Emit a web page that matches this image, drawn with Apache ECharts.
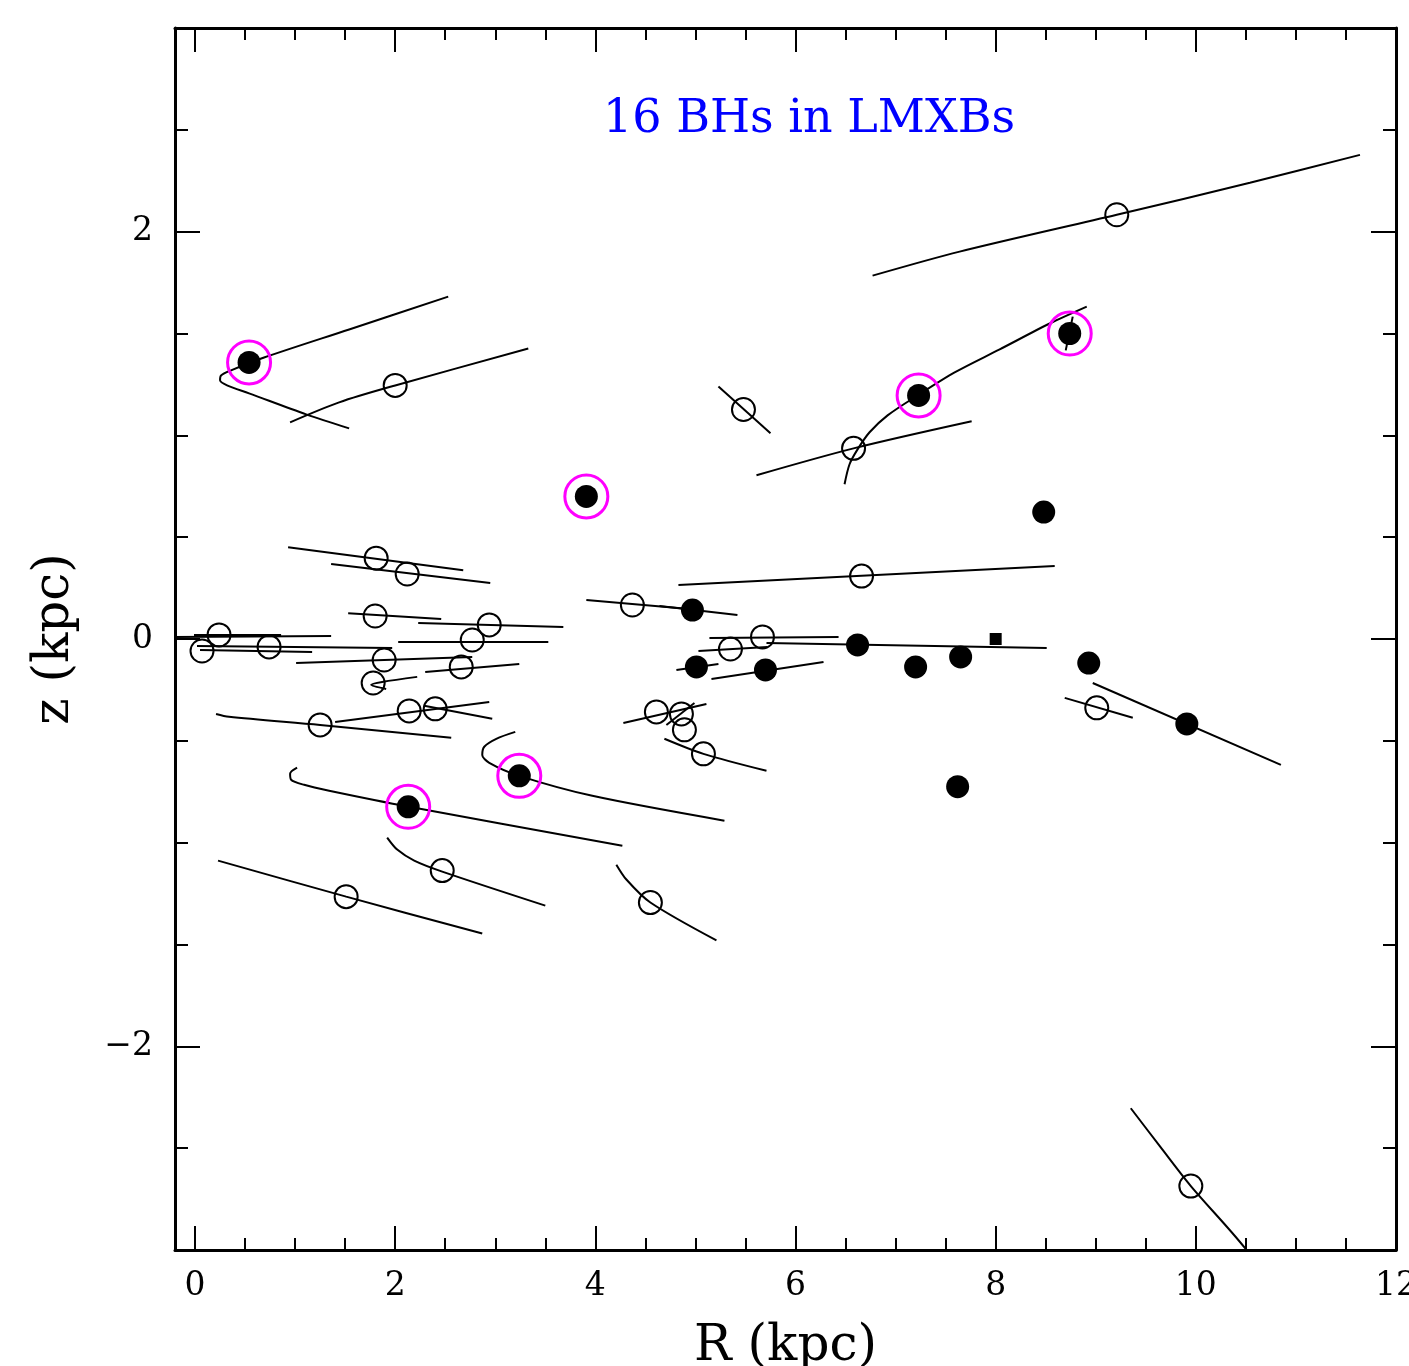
<!DOCTYPE html>
<html>
<head>
<meta charset="utf-8">
<script src="https://cdn.jsdelivr.net/npm/echarts@6/dist/echarts.min.js"></script>
<style>
  html, body { margin: 0; padding: 0; background: #fff; }
  #chart { width: 1409px; height: 1366px; }
</style>
</head>
<body>
<div id="chart"></div>
<script>
// tick positions
const xMajor = [0, 2, 4, 6, 8, 10, 12];
const xMinor = [0.5, 1, 1.5, 2.5, 3, 3.5, 4.5, 5, 5.5, 6.5, 7, 7.5, 8.5, 9, 9.5, 10.5, 11, 11.5];
const yMajor = [-2, 0, 2];
const yMinor = [-2.5, -1.5, -1, -0.5, 0.5, 1, 1.5, 2.5];

// black holes (filled), the ones with a magenta ring, other sources (open), the Sun
const bhPoints = [
  [0.54, 1.358], [3.91, 0.70], [7.23, 1.196], [8.74, 1.50], [3.24, -0.672], [2.13, -0.824],
  [4.97, 0.142], [5.01, -0.137], [5.70, -0.152], [6.62, -0.029], [7.20, -0.137], [7.65, -0.088],
  [8.48, 0.623], [8.93, -0.118], [9.91, -0.417], [7.62, -0.725]
];
const ringed = [
  [0.54, 1.358], [3.91, 0.70], [7.23, 1.196], [8.74, 1.50], [3.24, -0.672], [2.13, -0.824]
];
const openPoints = [
  [2.00, 1.245], [5.48, 1.127], [6.58, 0.936], [9.21, 2.083], [1.81, 0.397], [2.12, 0.319],
  [1.80, 0.113], [2.94, 0.069], [2.77, -0.005], [0.24, 0.020], [0.07, -0.059], [0.74, -0.039],
  [1.89, -0.103], [2.66, -0.137], [1.78, -0.216], [2.14, -0.353], [2.40, -0.343], [1.25, -0.422],
  [4.37, 0.167], [6.66, 0.309], [5.67, 0.010], [5.35, -0.049], [4.61, -0.358], [4.86, -0.368],
  [4.89, -0.446], [5.08, -0.564], [2.47, -1.137], [1.51, -1.265], [4.55, -1.294], [9.01, -0.338],
  [9.95, -2.686]
];
const sun = [[8.0, 0.0]];

// orbit tracks, one point list each
const tracks = [
  [[2.53, 1.681], [1.54, 1.520], [0.69, 1.382], [0.36, 1.319], [0.26, 1.294], [0.25, 1.270],
   [0.32, 1.245], [0.54, 1.206], [1.11, 1.103], [1.54, 1.034]],
  [[0.95, 1.064], [1.44, 1.162], [2.00, 1.245], [3.33, 1.426]],
  [[6.49, 0.760], [6.54, 0.858], [6.62, 0.931], [6.74, 1.015], [6.92, 1.098], [7.22, 1.196],
   [7.59, 1.309], [8.04, 1.422], [8.54, 1.549], [8.91, 1.632]],
  [[8.77, 1.583], [8.70, 1.417]],
  [[5.61, 0.804], [6.58, 0.936], [7.76, 1.069]],
  [[5.23, 1.240], [5.75, 1.010]],
  [[6.77, 1.784], [7.64, 1.902], [9.21, 2.083], [10.54, 2.240], [11.64, 2.377]],
  [[0.93, 0.451], [2.68, 0.338]],
  [[1.36, 0.368], [2.95, 0.275]],
  [[1.53, 0.127], [2.46, 0.098]],
  [[2.23, 0.078], [3.68, 0.059]],
  [[2.03, -0.015], [3.53, -0.015]],
  [[-0.01, 0.020], [0.86, 0.020]],
  [[-0.21, 0.010], [1.36, 0.015]],
  [[0.02, -0.034], [1.97, -0.044]],
  [[0.05, -0.054], [1.17, -0.064]],
  [[1.01, -0.118], [2.77, -0.088]],
  [[2.30, -0.162], [3.24, -0.123]],
  [[2.22, -0.186], [1.87, -0.211], [1.76, -0.225], [1.91, -0.245]],
  [[0.21, -0.368], [0.34, -0.382], [1.25, -0.422], [2.56, -0.485]],
  [[1.40, -0.407], [2.94, -0.309]],
  [[2.29, -0.328], [2.97, -0.392]],
  [[3.91, 0.191], [4.94, 0.147]],
  [[4.64, 0.162], [5.42, 0.118]],
  [[4.83, 0.265], [8.59, 0.358]],
  [[5.14, 0.005], [6.43, 0.010]],
  [[5.03, -0.059], [5.72, -0.039]],
  [[5.71, -0.020], [8.51, -0.044]],
  [[4.81, -0.152], [5.23, -0.123]],
  [[5.16, -0.196], [6.28, -0.113]],
  [[4.28, -0.412], [5.11, -0.319]],
  [[4.71, -0.422], [4.99, -0.314]],
  [[4.69, -0.490], [5.08, -0.564], [5.71, -0.647]],
  [[3.20, -0.456], [3.01, -0.490], [2.89, -0.529], [2.87, -0.569], [2.94, -0.608], [3.24, -0.672],
   [3.97, -0.770], [5.29, -0.892]],
  [[1.02, -0.632], [0.95, -0.662], [0.96, -0.691], [1.09, -0.716], [1.34, -0.745], [2.14, -0.824],
   [4.27, -1.015]],
  [[1.92, -0.975], [2.02, -1.034], [2.19, -1.088], [2.47, -1.142], [3.50, -1.309]],
  [[0.23, -1.088], [1.51, -1.265], [2.87, -1.446]],
  [[4.21, -1.108], [4.31, -1.181], [4.55, -1.294], [5.21, -1.480]],
  [[8.69, -0.289], [9.37, -0.387]],
  [[8.97, -0.216], [10.85, -0.618]],
  [[9.35, -2.304], [9.64, -2.490], [9.95, -2.686], [10.49, -2.990], [10.55, -3.06]]
];

const FONT = 'DejaVu Serif';
const minus = v => (v < 0 ? '\u2212' + (-v) : String(v));

function xAx(pos, vals, len, labels, line) {
  return {
    type: 'value', min: -0.2, max: 12, position: pos,
    axisLine: { show: line, onZero: false, lineStyle: { color: '#000', width: 3 } },
    axisTick: { show: true, inside: true, length: len, customValues: vals, lineStyle: { color: '#000', width: 2 } },
    axisLabel: { show: labels, customValues: vals, margin: 20, color: '#000', fontFamily: FONT, fontSize: 33, formatter: minus },
    splitLine: { show: false }
  };
}
function yAx(pos, vals, len, labels, line) {
  return {
    type: 'value', min: -3, max: 3, position: pos,
    axisLine: { show: line, onZero: false, lineStyle: { color: '#000', width: 3 } },
    axisTick: { show: true, inside: true, length: len, customValues: vals, lineStyle: { color: '#000', width: 2 } },
    axisLabel: { show: labels, customValues: vals, margin: 22, color: '#000', fontFamily: FONT, fontSize: 33, formatter: minus },
    splitLine: { show: false }
  };
}

const xAxes = [
  Object.assign(xAx('bottom', xMajor, 24, true, true), {
    name: 'R (kpc)', nameLocation: 'middle', nameGap: 72,
    nameTextStyle: { color: '#000', fontFamily: FONT, fontSize: 50 }
  }),
  xAx('bottom', xMinor, 12, false, false),
  xAx('top', xMajor, 24, false, true),
  xAx('top', xMinor, 12, false, false)
];
const yAxes = [
  Object.assign(yAx('left', yMajor, 25, true, true), {
    name: 'z (kpc)', nameLocation: 'middle', nameGap: 95,
    nameTextStyle: { color: '#000', fontFamily: FONT, fontSize: 50 }
  }),
  yAx('left', yMinor, 13, false, false),
  yAx('right', yMajor, 25, false, true),
  yAx('right', yMinor, 13, false, false)
];

const series = tracks.map(t => ({
  type: 'line', data: t, showSymbol: false, symbol: 'none', smooth: 0.3,
  lineStyle: { color: '#000', width: 2 }, silent: true, z: 2
}));
series.push({
  type: 'scatter', data: openPoints, symbol: 'circle', symbolSize: 23,
  itemStyle: { color: 'rgba(0,0,0,0)', borderColor: '#000', borderWidth: 2, opacity: 1 }, z: 3
});
series.push({
  type: 'scatter', data: bhPoints, symbol: 'circle', symbolSize: 23,
  itemStyle: { color: '#000', opacity: 1 }, z: 4
});
series.push({
  type: 'scatter', data: ringed, symbol: 'circle', symbolSize: 43,
  itemStyle: { color: 'rgba(0,0,0,0)', borderColor: '#ff00ff', borderWidth: 3, opacity: 1 }, z: 5
});
series.push({
  type: 'scatter', data: sun, symbol: 'rect', symbolSize: 12,
  itemStyle: { color: '#000', opacity: 1 }, z: 4
});

const chart = echarts.init(document.getElementById('chart'));
chart.setOption({
  backgroundColor: '#fff',
  animation: false,
  title: {
    text: '16 BHs in LMXBs', left: 598, top: 92,
    textStyle: { color: '#0000ff', fontFamily: FONT, fontSize: 46, fontWeight: 'normal' }
  },
  grid: { left: 175, right: 13, top: 28, bottom: 116, containLabel: false, outerBoundsMode: 'none' },
  xAxis: xAxes,
  yAxis: yAxes,
  series: series
});
</script>
</body>
</html>
